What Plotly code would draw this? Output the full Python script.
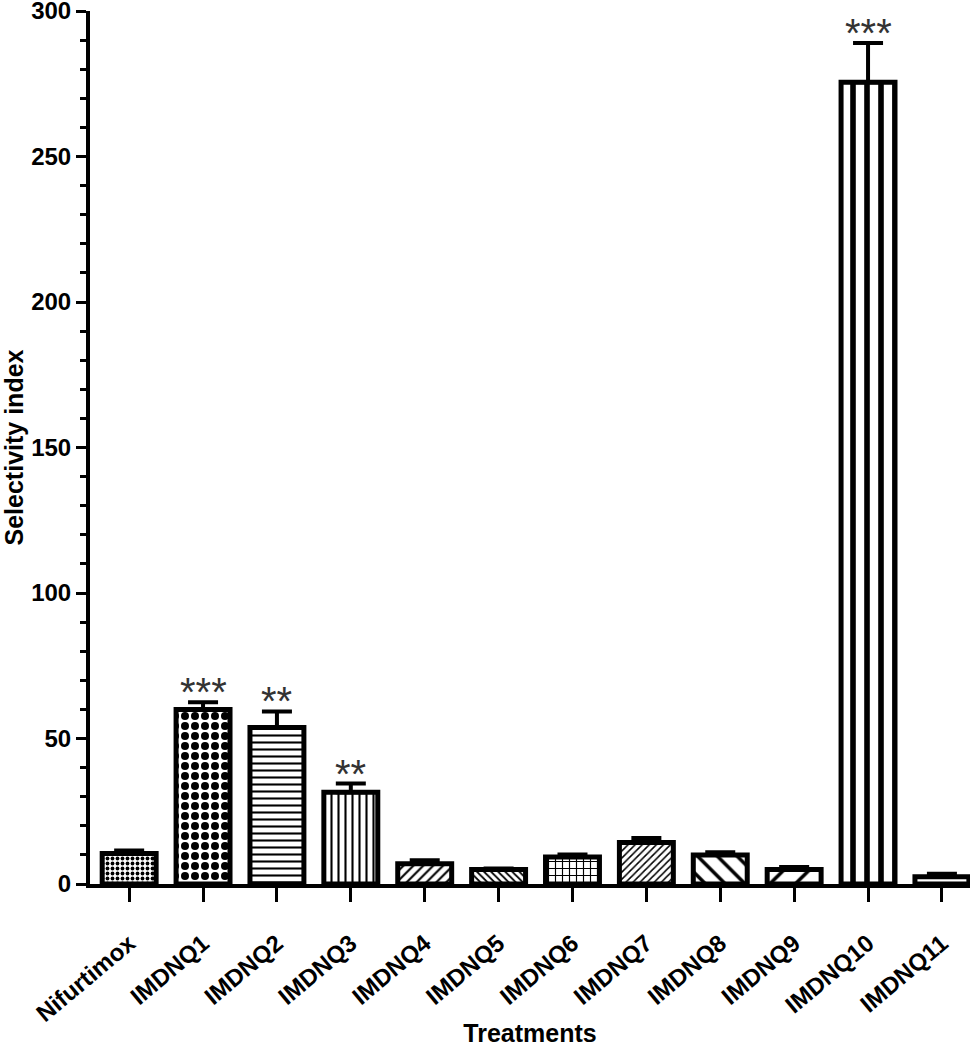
import plotly.graph_objects as go

categories = ["Nifurtimox", "IMDNQ1", "IMDNQ2", "IMDNQ3", "IMDNQ4", "IMDNQ5",
              "IMDNQ6", "IMDNQ7", "IMDNQ8", "IMDNQ9", "IMDNQ10", "IMDNQ11"]
values = [10.5, 60, 53.8, 31.5, 7.0, 5.0, 9.3, 14.3, 10.0, 5.0, 275.5, 2.5]
errors = [1.0, 2.5, 5.5, 3.0, 1.2, 0.3, 0.8, 1.5, 0.9, 0.8, 13.5, 1.0]
stars = ["", "***", "**", "**", "", "", "", "", "", "", "***", ""]
shapes = [".", ".", "-", "|", "/", "\\", "+", "/", "\\", "/", "|", ""]
psizes = [5, 10, 7, 7, 7, 5, 7, 5, 14, 18, 14, 8]
psolid = [0.45, 0.5, 0.3, 0.3, 0.3, 0.35, 0.3, 0.3, 0.25, 0.2, 0.4, 0.3]

fig = go.Figure()
fig.add_trace(go.Bar(
    x=categories, y=values, width=0.73,
    marker=dict(color="white", line=dict(color="black", width=5),
                pattern=dict(shape=shapes, size=psizes, solidity=psolid,
                             fgcolor="black", fgopacity=1, bgcolor="white",
                             fillmode="overlay")),
    error_y=dict(type="data", symmetric=False, array=errors,
                 arrayminus=[0] * len(errors), color="black", thickness=4, width=15),
    showlegend=False,
))

for c, v, e, s in zip(categories, values, errors, stars):
    if s:
        fig.add_annotation(x=c, y=v + e, text=s, showarrow=False, yanchor="bottom",
                           yshift=-14, font=dict(family="Liberation Sans", size=40, color="#333"))

fig.update_layout(
    width=970, height=1050,
    margin=dict(l=90, r=0, t=11, b=166, autoexpand=False),
    paper_bgcolor="white", plot_bgcolor="white",
    font=dict(family="Liberation Sans", color="black"),
)
fig.update_xaxes(
    range=[-0.53, 11.38], showline=True, linecolor="black", linewidth=4,
    ticks="outside", ticklen=14, tickwidth=3, tickcolor="black",
    tickangle=-40, automargin=False, ticklabeloverflow="allow",
    ticklabelstandoff=18,
    tickfont=dict(family="Liberation Sans", size=24, weight="bold"),
    title=dict(text="Treatments", font=dict(family="Liberation Sans", size=25, weight="bold"),
               standoff=0),
)
fig.update_yaxes(
    range=[0, 300], showline=True, linecolor="black", linewidth=4,
    ticks="outside", ticklen=10, tickwidth=3, tickcolor="black",
    tickvals=[0, 50, 100, 150, 200, 250, 300], showgrid=False, zeroline=False,
    automargin=False, ticklabeloverflow="allow",
    minor=dict(dtick=10, ticks="outside", ticklen=6, tickwidth=2.5, tickcolor="black"),
    tickfont=dict(family="Liberation Sans", size=24, weight="bold"),
    title=dict(text="Selectivity index", font=dict(family="Liberation Sans", size=25, weight="bold"),
               standoff=4),
)

fig.write_html("out.html", config={"displayModeBar": False},
               post_script="document.body.style.margin='0';document.body.style.overflow='hidden';")
